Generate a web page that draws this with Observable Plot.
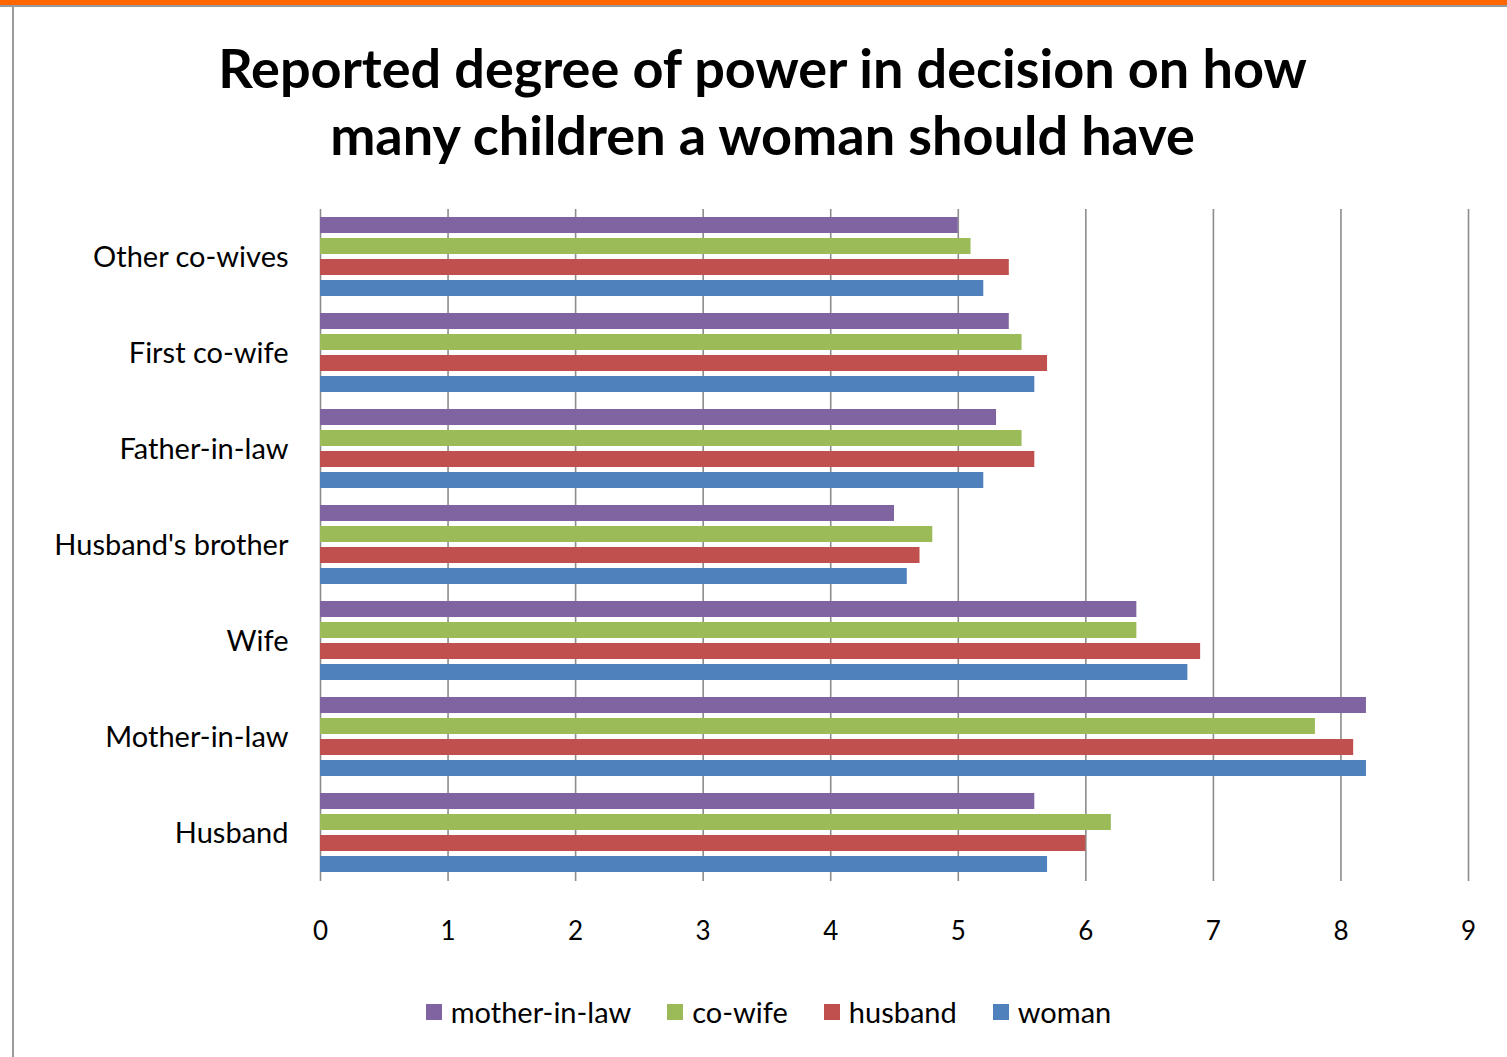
<!DOCTYPE html>
<html>
<head>
<meta charset="utf-8">
<script src="https://cdn.jsdelivr.net/npm/d3@7"></script>
<script src="https://cdn.jsdelivr.net/npm/@observablehq/plot@0.6"></script>
<style>
  body { margin: 0; background: #fff; font-family: Lato, sans-serif; }
  #page { position: relative; width: 1507px; height: 1057px; overflow: hidden; background: #fff; }
  #topbar { position: absolute; left: 0; top: 0; width: 1507px; height: 5px; background: #FF6600; }
  #topline { position: absolute; left: 0; top: 5px; width: 1507px; height: 2px; background: #9a9a9a; }
  #leftline { position: absolute; left: 12px; top: 7px; width: 2px; height: 1050px; background: #9a9a9a; }
  #title { position: absolute; left: 14px; width: 1497px; top: 34px; text-align: center;
           font-family: Lato, sans-serif; font-weight: 700; font-size: 54px; line-height: 67px; color: #000; }
  #chart { position: absolute; left: 0; top: 190px; }
  #chart g[aria-label^="x-axis"] text { font-size: 26px; }
  #legend { position: absolute; left: 30px; width: 1477px; top: 994px; display: flex; justify-content: center;
            align-items: center; font-family: Lato, sans-serif; font-size: 29px; color: #000; }
  .item { display: flex; align-items: center; margin: 0 18px; }
  .swatch { width: 16px; height: 16px; margin-right: 9px; }
</style>
</head>
<body>
<div id="page">
  <div id="topbar"></div>
  <div id="topline"></div>
  <div id="leftline"></div>
  <div id="title">Reported degree of power in decision on how<br>many children a woman should have</div>
  <div id="chart"></div>
  <div id="legend"></div>
</div>
<script>
// Groups, top to bottom
const categories = ["Other co-wives", "First co-wife", "Father-in-law", "Husband's brother", "Wife", "Mother-in-law", "Husband"];
// Respondent groups (series), in bar order within each group
const seriesNames = ["mother-in-law", "co-wife", "husband", "woman"];
const seriesColors = ["#8064A2", "#9BBB59", "#C0504D", "#4F81BD"];

// Reported degree of power, one value per group
const motherInLaw = [5.0, 5.4, 5.3, 4.5, 6.4, 8.2, 5.6];
const coWife      = [5.1, 5.5, 5.5, 4.8, 6.4, 7.8, 6.2];
const husband     = [5.4, 5.7, 5.6, 4.7, 6.9, 8.1, 6.0];
const woman       = [5.2, 5.6, 5.2, 4.6, 6.8, 8.2, 5.7];

const xTicks = [0, 1, 2, 3, 4, 5, 6, 7, 8, 9];

const seriesValues = [motherInLaw, coWife, husband, woman];
const table = categories.flatMap((category, i) =>
  seriesNames.map((series, j) => ({category, series, value: seriesValues[j][i]}))
);

const chart = Plot.plot({
  width: 1507,
  height: 760,
  marginTop: 20,
  marginBottom: 70,
  marginLeft: 320,
  marginRight: 39,
  style: {fontFamily: "Lato, sans-serif", fontSize: "29px", color: "#000", background: "transparent"},
  x: {domain: [0, 9], ticks: xTicks, tickSize: 0, tickPadding: 46, label: null},
  y: {domain: seriesNames, axis: null, paddingInner: 0.22, paddingOuter: 0.05},
  fy: {domain: categories, paddingInner: 0.12, paddingOuter: 0.04, label: null, tickSize: 0, tickPadding: 32},
  color: {domain: seriesNames, range: seriesColors},
  facet: {data: table, y: "category"},
  marks: [
    // vertical gridlines, stretched across the gaps between groups
    Plot.ruleX(xTicks, {stroke: "#8c8c8c", strokeWidth: 1.6, insetTop: -6, insetBottom: -6}),
    Plot.barX(table, {x: "value", y: "series", fill: "series"})
  ]
});
document.getElementById("chart").appendChild(chart);

// Legend row
const legend = document.getElementById("legend");
seriesNames.forEach((name, i) => {
  const item = document.createElement("div");
  item.className = "item";
  const sw = document.createElement("div");
  sw.className = "swatch";
  sw.style.background = seriesColors[i];
  const label = document.createElement("span");
  label.textContent = name;
  item.appendChild(sw);
  item.appendChild(label);
  legend.appendChild(item);
});
</script>
</body>
</html>
